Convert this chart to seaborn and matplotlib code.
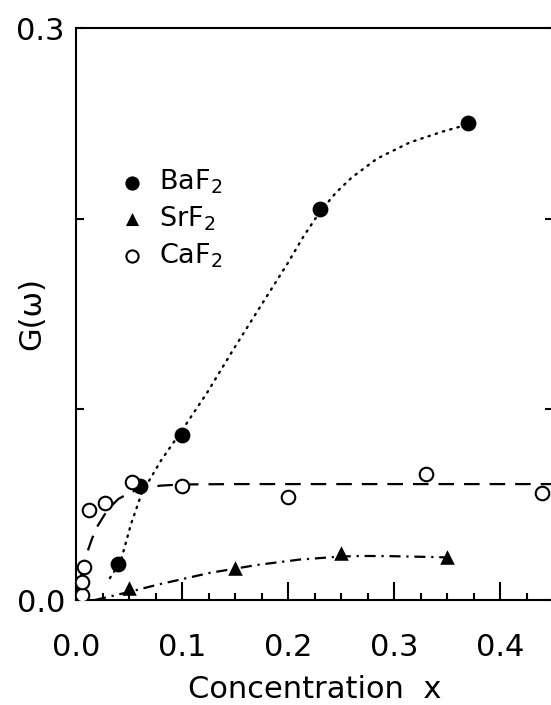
import matplotlib
matplotlib.use("Agg")
import matplotlib.pyplot as plt
from matplotlib.ticker import FixedLocator, FixedFormatter, MultipleLocator
import seaborn as sns
import pandas as pd

# Measured G(omega) versus concentration
ba_x = [0.04, 0.06, 0.10, 0.23, 0.37]
ba_y = [0.019, 0.060, 0.0865, 0.205, 0.250]

sr_x = [0.05, 0.15, 0.25, 0.35]
sr_y = [0.0061, 0.017, 0.0244, 0.0223]

ca_x = [0.006, 0.006, 0.008, 0.012, 0.027, 0.053, 0.10, 0.20, 0.33, 0.44]
ca_y = [0.0026, 0.0094, 0.0173, 0.047, 0.051, 0.062, 0.060, 0.054, 0.066, 0.056]

# Guide-to-the-eye curves
ba_fit_x = [0.032, 0.042, 0.052, 0.062, 0.08, 0.10, 0.124, 0.148, 0.174, 0.199,
            0.215, 0.23, 0.245, 0.26, 0.284, 0.315, 0.346, 0.371]
ba_fit_y = [0.0115, 0.020, 0.040, 0.056, 0.073, 0.089, 0.109, 0.131, 0.154, 0.176,
            0.191, 0.2035, 0.2135, 0.2215, 0.2315, 0.2400, 0.2457, 0.2496]

sr_fit_x = [0.018, 0.05, 0.076, 0.126, 0.171, 0.211, 0.25, 0.27, 0.296, 0.34, 0.35]
sr_fit_y = [0.0, 0.0042, 0.0079, 0.0142, 0.0184, 0.0212, 0.0228, 0.0231, 0.0230, 0.0225, 0.0223]

ca_fit_x = [0.0, 0.005, 0.01, 0.015, 0.02, 0.03, 0.04, 0.05, 0.06, 0.08, 0.10, 0.15, 0.45]
ca_fit_y = [0.0, 0.014, 0.024, 0.032, 0.0385, 0.0475, 0.053, 0.056, 0.0584, 0.0600,
            0.0606, 0.0608, 0.0608]

labels = ["BaF$_2$", "SrF$_2$", "CaF$_2$"]
x_ticks = [0.0, 0.1, 0.2, 0.3, 0.4]
x_tick_labels = ["0.0", "0.1", "0.2", "0.3", "0.4"]
y_ticks = [0.0, 0.1, 0.2, 0.3]
y_tick_labels = ["0.0", "", "", "0.3"]

sns.set_style("ticks")
plt.rcParams["font.family"] = ["DejaVu Sans"]
plt.rcParams["mathtext.default"] = "regular"
plt.rcParams["text.color"] = "black"
plt.rcParams["xtick.color"] = "black"
plt.rcParams["ytick.color"] = "black"
plt.rcParams["axes.labelcolor"] = "black"

fig = plt.figure(figsize=(5.51, 7.05), dpi=100)
ax = fig.add_axes([76 / 551, 105 / 705, 477 / 551, 572 / 705])

points = pd.concat([
    pd.DataFrame({"x": ba_x, "y": ba_y, "sample": labels[0]}),
    pd.DataFrame({"x": sr_x, "y": sr_y, "sample": labels[1]}),
    pd.DataFrame({"x": ca_x, "y": ca_y, "sample": labels[2]}),
])

# fitted curves
sns.lineplot(x=ba_fit_x, y=ba_fit_y, sort=False, estimator=None, ax=ax,
             color="black", lw=1.7, linestyle=(0, (0.6, 2.6)),
             dash_capstyle="round", legend=False)
sns.lineplot(x=sr_fit_x, y=sr_fit_y, sort=False, estimator=None, ax=ax,
             color="black", lw=1.6, linestyle=(0, (5.0, 2.6, 1.0, 2.6)),
             legend=False)
sns.lineplot(x=ca_fit_x, y=ca_fit_y, sort=False, estimator=None, ax=ax,
             color="black", lw=1.6, linestyle=(0, (7.0, 4.5)), legend=False)

# measured points
d = points[points["sample"] == labels[0]]
sns.scatterplot(data=d, x="x", y="y", ax=ax, marker="o", s=130,
                color="black", edgecolor="black", linewidth=0, label=labels[0], zorder=5)
d = points[points["sample"] == labels[1]]
sns.scatterplot(data=d, x="x", y="y", ax=ax, marker="^", s=110,
                color="black", edgecolor="black", linewidth=0, label=labels[1], zorder=5)
d = points[points["sample"] == labels[2]]
sns.scatterplot(data=d, x="x", y="y", ax=ax, marker="o", s=95,
                facecolor="white", edgecolor="black", linewidth=1.5, label=labels[2], zorder=5)

ax.set_xlim(0, 0.45)
ax.set_ylim(0, 0.3)

ax.xaxis.set_major_locator(FixedLocator(x_ticks))
ax.xaxis.set_major_formatter(FixedFormatter(x_tick_labels))
ax.xaxis.set_minor_locator(MultipleLocator(0.025))
ax.yaxis.set_major_locator(FixedLocator(y_ticks))
ax.yaxis.set_major_formatter(FixedFormatter(y_tick_labels))

ax.tick_params(axis="x", which="major", direction="in", length=13, width=1.5,
               pad=24, labelsize=22, top=False)
ax.tick_params(axis="x", which="minor", direction="in", length=5, width=1.5, top=False)
ax.tick_params(axis="y", which="major", direction="in", length=6, width=1.5,
               pad=8, labelsize=22, left=True, right=True)

for side in ["left", "bottom", "top", "right"]:
    ax.spines[side].set_linewidth(1.5)
    ax.spines[side].set_color("black")

ax.set_xlabel("Concentration  x", fontsize=22, labelpad=9)
ax.set_ylabel("G(ω)", fontsize=22, va="center")
ax.yaxis.set_label_coords(-0.092, 0.5)

ax.legend(loc="upper left", bbox_to_anchor=(0.066, 0.7745), frameon=False,
          fontsize=19.5, markerscale=0.9, handlelength=1.0,
          handletextpad=0.5, labelspacing=0.3, borderaxespad=0)

fig.savefig("out.png", dpi=100)
